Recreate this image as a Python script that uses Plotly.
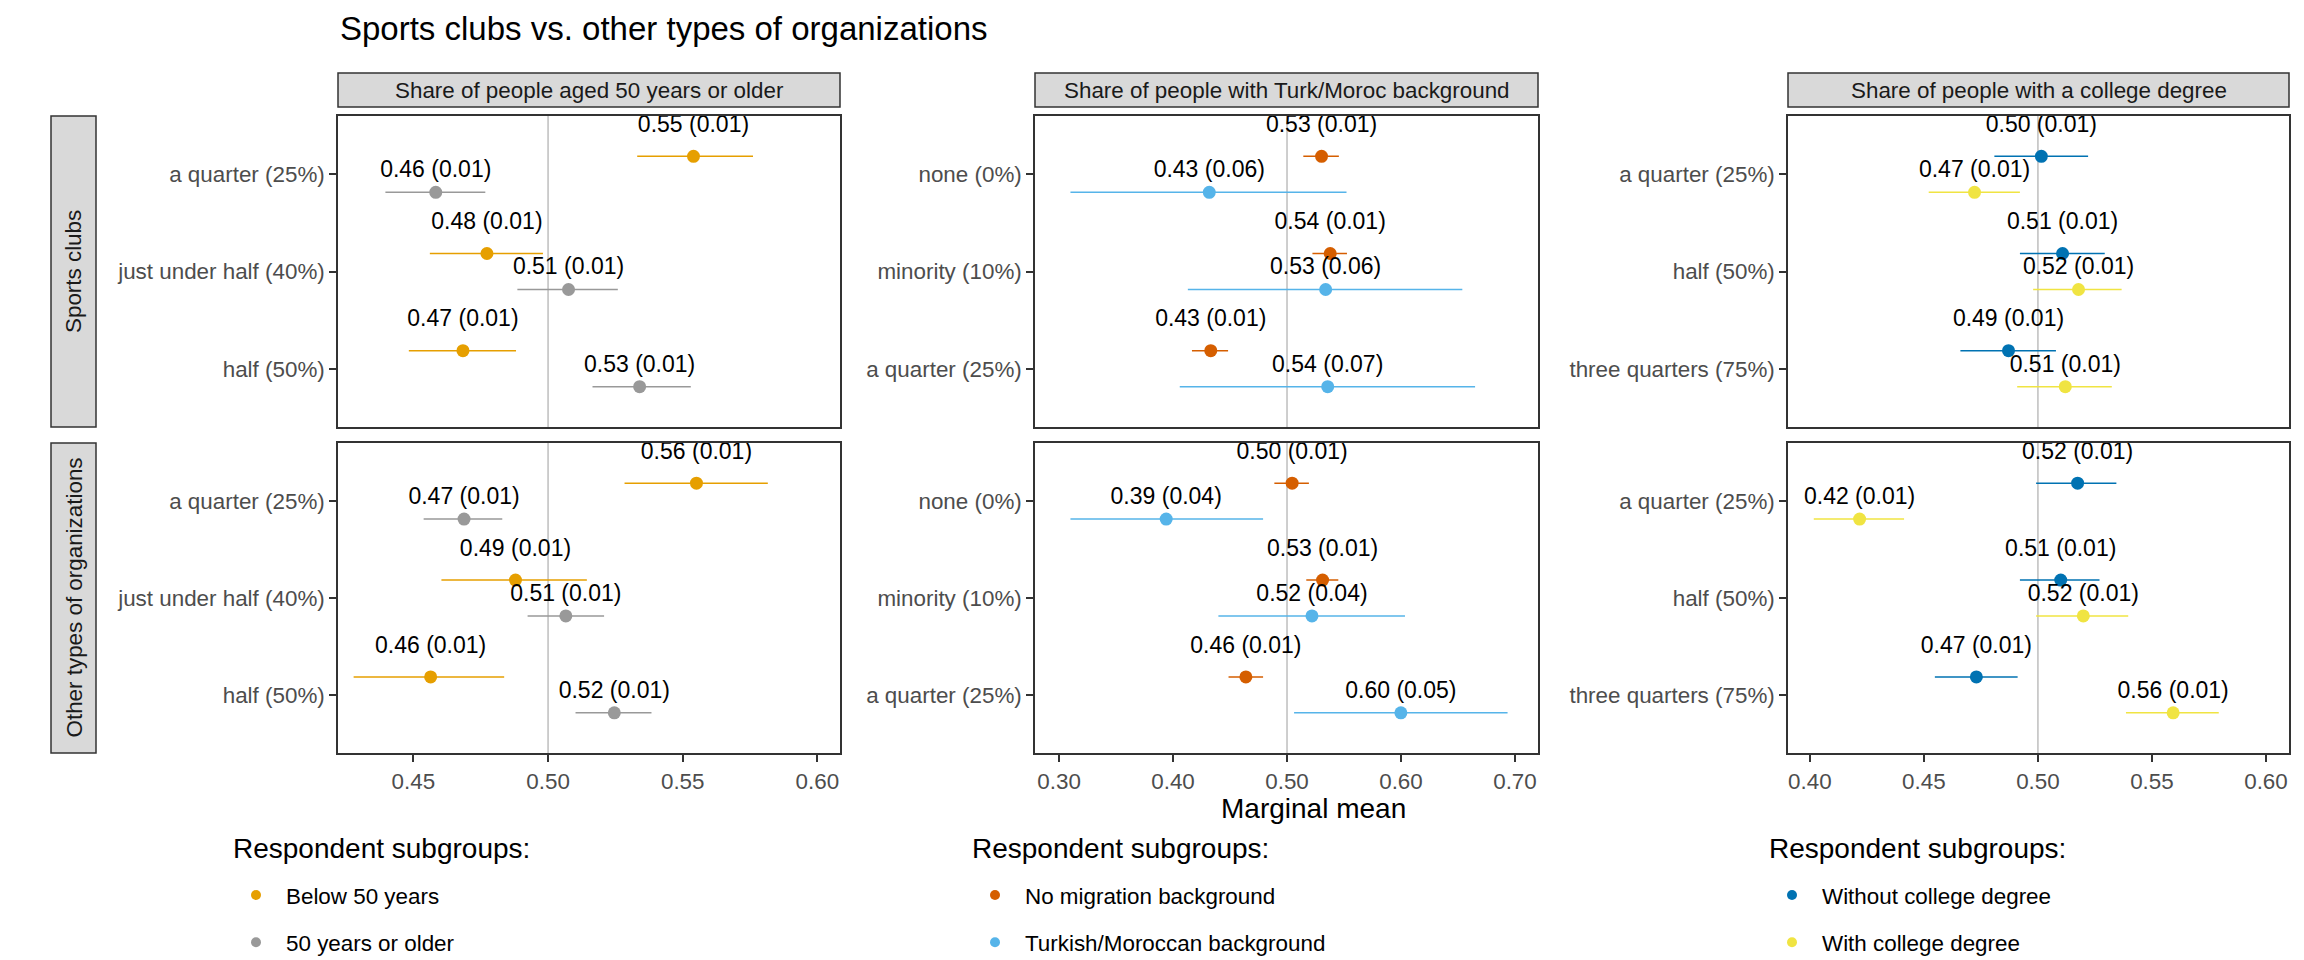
import plotly.graph_objects as go

FONT = "Liberation Sans, Arial, sans-serif"

title_text = "Sports clubs vs. other types of organizations"
x_title = "Marginal mean"
legend_title = "Respondent subgroups:"
row_labels = ["Sports clubs", "Other types of organizations"]
col_labels = ["Share of people aged 50 years or older",
              "Share of people with Turk/Moroc background",
              "Share of people with a college degree"]

levels_age = ["a quarter (25%)", "just under half (40%)", "half (50%)"]
levels_mig = ["none (0%)", "minority (10%)", "a quarter (25%)"]
levels_edu = ["a quarter (25%)", "half (50%)", "three quarters (75%)"]

groups_age = ["Below 50 years", "50 years or older"]
groups_mig = ["No migration background", "Turkish/Moroccan background"]
groups_edu = ["Without college degree", "With college degree"]

colors_age = ["#E69F00", "#999999"]
colors_mig = ["#D55E00", "#56B4E9"]
colors_edu = ["#0072B2", "#F0E442"]

xticks_age = [0.45, 0.50, 0.55, 0.60]
xticks_mig = [0.30, 0.40, 0.50, 0.60, 0.70]
xticks_edu = [0.40, 0.45, 0.50, 0.55, 0.60]

# ---- Share aged 50+ ----
age_sports_below50_est = [0.554, 0.4773, 0.4684]
age_sports_below50_lo = [0.5331, 0.4561, 0.4483]
age_sports_below50_hi = [0.5761, 0.4981, 0.4881]
age_sports_below50_se = [0.01, 0.01, 0.01]
age_sports_50plus_est = [0.4583, 0.5076, 0.534]
age_sports_50plus_lo = [0.4396, 0.4886, 0.5165]
age_sports_50plus_hi = [0.4767, 0.5259, 0.5530]
age_sports_50plus_se = [0.01, 0.01, 0.01]
age_other_below50_est = [0.5551, 0.4879, 0.4564]
age_other_below50_lo = [0.5284, 0.4604, 0.4278]
age_other_below50_hi = [0.5816, 0.5144, 0.4837]
age_other_below50_se = [0.01, 0.01, 0.01]
age_other_50plus_est = [0.4688, 0.5066, 0.5246]
age_other_50plus_lo = [0.4538, 0.4924, 0.5102]
age_other_50plus_hi = [0.4830, 0.5208, 0.5384]
age_other_50plus_se = [0.01, 0.01, 0.01]

# ---- Share Turkish/Moroccan background ----
mig_sports_none_est = [0.5303, 0.5379, 0.4331]
mig_sports_none_lo = [0.5143, 0.5223, 0.4166]
mig_sports_none_hi = [0.5455, 0.5526, 0.4483]
mig_sports_none_se = [0.01, 0.01, 0.01]
mig_sports_tm_est = [0.4318, 0.5339, 0.5357]
mig_sports_tm_lo = [0.3100, 0.4130, 0.4059]
mig_sports_tm_hi = [0.5522, 0.6538, 0.6650]
mig_sports_tm_se = [0.06, 0.06, 0.07]
mig_other_none_est = [0.5045, 0.5312, 0.4639]
mig_other_none_lo = [0.4889, 0.5169, 0.4487]
mig_other_none_hi = [0.5192, 0.5450, 0.4790]
mig_other_none_se = [0.01, 0.01, 0.01]
mig_other_tm_est = [0.394, 0.5219, 0.5999]
mig_other_tm_lo = [0.3100, 0.4398, 0.5062]
mig_other_tm_hi = [0.4790, 0.6035, 0.6935]
mig_other_tm_se = [0.04, 0.04, 0.05]

# ---- Share with college degree ----
edu_sports_nocol_est = [0.5015, 0.5108, 0.4871]
edu_sports_nocol_lo = [0.4809, 0.4921, 0.4660]
edu_sports_nocol_hi = [0.5220, 0.5293, 0.5079]
edu_sports_nocol_se = [0.01, 0.01, 0.01]
edu_sports_col_est = [0.4722, 0.5178, 0.5120]
edu_sports_col_lo = [0.4521, 0.4979, 0.4909]
edu_sports_col_hi = [0.4921, 0.5367, 0.5324]
edu_sports_col_se = [0.01, 0.01, 0.01]
edu_other_nocol_est = [0.5174, 0.5100, 0.4730]
edu_other_nocol_lo = [0.4992, 0.4921, 0.4548]
edu_other_nocol_hi = [0.5344, 0.5270, 0.4911]
edu_other_nocol_se = [0.01, 0.01, 0.01]
edu_other_col_est = [0.4218, 0.5199, 0.5593]
edu_other_col_lo = [0.4017, 0.4992, 0.5386]
edu_other_col_hi = [0.4413, 0.5396, 0.5793]
edu_other_col_se = [0.01, 0.01, 0.01]

# ---- assemble (panel[row][col][group] = (est, lo, hi, se)) ----
panels = [
    [
        [(age_sports_below50_est, age_sports_below50_lo, age_sports_below50_hi, age_sports_below50_se),
         (age_sports_50plus_est, age_sports_50plus_lo, age_sports_50plus_hi, age_sports_50plus_se)],
        [(mig_sports_none_est, mig_sports_none_lo, mig_sports_none_hi, mig_sports_none_se),
         (mig_sports_tm_est, mig_sports_tm_lo, mig_sports_tm_hi, mig_sports_tm_se)],
        [(edu_sports_nocol_est, edu_sports_nocol_lo, edu_sports_nocol_hi, edu_sports_nocol_se),
         (edu_sports_col_est, edu_sports_col_lo, edu_sports_col_hi, edu_sports_col_se)],
    ],
    [
        [(age_other_below50_est, age_other_below50_lo, age_other_below50_hi, age_other_below50_se),
         (age_other_50plus_est, age_other_50plus_lo, age_other_50plus_hi, age_other_50plus_se)],
        [(mig_other_none_est, mig_other_none_lo, mig_other_none_hi, mig_other_none_se),
         (mig_other_tm_est, mig_other_tm_lo, mig_other_tm_hi, mig_other_tm_se)],
        [(edu_other_nocol_est, edu_other_nocol_lo, edu_other_nocol_hi, edu_other_nocol_se),
         (edu_other_col_est, edu_other_col_lo, edu_other_col_hi, edu_other_col_se)],
    ],
]
col_levels = [levels_age, levels_mig, levels_edu]
col_groups = [groups_age, groups_mig, groups_edu]
col_colors = [colors_age, colors_mig, colors_edu]
col_xticks = [xticks_age, xticks_mig, xticks_edu]
col_ranges = [[0.4220, 0.6084], [0.2789, 0.7202], [0.3904, 0.6101]]

W, H = 2304, 960
col_px = [(338, 840), (1035, 1538), (1788, 2289)]
row_px = [(116, 427), (443, 753)]
group_offset = [0.185, -0.185]
label_offset = [0.31, 0.215]

TICK_FONT = dict(family=FONT, size=22.4, color="#4D4D4D")
TEXT_COLOR = "#1A1A1A"
BORDER = "#333333"

fig = go.Figure()
layout = dict(
    width=W, height=H, margin=dict(l=0, r=0, t=0, b=0, autoexpand=False),
    paper_bgcolor="white", plot_bgcolor="white",
    font=dict(family=FONT, color=TEXT_COLOR),
    showlegend=True,
)
shapes = []
annotations = []

for r in range(2):
    for c in range(3):
        k = r * 3 + c + 1
        xa = "x" if k == 1 else f"x{k}"
        ya = "y" if k == 1 else f"y{k}"
        nlev = len(col_levels[c])
        ypos = [nlev - i for i in range(nlev)]
        for g in range(2):
            est, lo, hi, se = panels[r][c][g]
            yy = [p + group_offset[g] for p in ypos]
            fig.add_trace(go.Scatter(
                x=est, y=yy, mode="markers", xaxis=xa, yaxis=ya,
                marker=dict(size=13, color=col_colors[c][g], line=dict(width=0)),
                error_x=dict(type="data", symmetric=False,
                             array=[h - e for h, e in zip(hi, est)],
                             arrayminus=[e - l for e, l in zip(est, lo)],
                             width=0, thickness=1.5, color=col_colors[c][g]),
                showlegend=False, hoverinfo="skip"))
            fig.add_trace(go.Scatter(
                x=est, y=[p + label_offset[g] for p in yy], mode="text",
                xaxis=xa, yaxis=ya,
                text=[f"{e:.2f} ({s:.2f})" for e, s in zip(est, se)],
                textposition="middle center",
                textfont=dict(family=FONT, size=23, color="black"),
                showlegend=False, hoverinfo="skip"))
        x0, x1 = col_px[c]
        y0, y1 = row_px[r]
        xkey = "xaxis" if k == 1 else f"xaxis{k}"
        ykey = "yaxis" if k == 1 else f"yaxis{k}"
        bottom = (r == 1)
        layout[xkey] = dict(
            domain=[x0 / W, x1 / W], anchor=ya, range=col_ranges[c],
            tickvals=col_xticks[c], ticktext=[f"{v:.2f}" for v in col_xticks[c]],
            showticklabels=bottom, ticks="outside" if bottom else "",
            ticklen=7, tickwidth=1.5, tickcolor=BORDER, tickfont=TICK_FONT,
            showgrid=False, zeroline=False, showline=True, linecolor=BORDER,
            linewidth=1.5, mirror=True, fixedrange=True)
        layout[ykey] = dict(
            domain=[1 - y1 / H, 1 - y0 / H], anchor=xa, range=[0.4, nlev + 0.6],
            tickvals=ypos, ticktext=col_levels[c],
            ticks="outside", ticklen=7, tickwidth=1.5, tickcolor=BORDER,
            tickfont=TICK_FONT, showgrid=False, zeroline=False, showline=True,
            linecolor=BORDER, linewidth=1.5, mirror=True, fixedrange=True)
        shapes.append(dict(type="line", xref=xa, yref=f"{ya} domain",
                           x0=0.5, x1=0.5, y0=0, y1=1, layer="below",
                           line=dict(color="#BEBEBE", width=1.5)))

# column strips
for c in range(3):
    x0, x1 = col_px[c]
    shapes.append(dict(type="rect", xref="paper", yref="paper",
                       x0=x0 / W, x1=x1 / W, y0=1 - 107 / H, y1=1 - 73 / H,
                       fillcolor="#D9D9D9", line=dict(color=BORDER, width=1.5)))
    annotations.append(dict(text=col_labels[c], xref="paper", yref="paper",
                            x=(x0 + x1) / 2 / W, y=1 - 90 / H, showarrow=False,
                            xanchor="center", yanchor="middle",
                            font=dict(family=FONT, size=22.4, color=TEXT_COLOR)))
# row strips
for r in range(2):
    y0, y1 = row_px[r]
    shapes.append(dict(type="rect", xref="paper", yref="paper",
                       x0=51 / W, x1=96 / W, y0=1 - y1 / H, y1=1 - y0 / H,
                       fillcolor="#D9D9D9", line=dict(color=BORDER, width=1.5)))
    annotations.append(dict(text=row_labels[r], xref="paper", yref="paper",
                            x=73.5 / W, y=1 - (y0 + y1) / 2 / H, showarrow=False,
                            textangle=-90, xanchor="center", yanchor="middle",
                            font=dict(family=FONT, size=22.4, color=TEXT_COLOR)))

annotations.append(dict(text=title_text, xref="paper", yref="paper",
                        x=338 / W, y=1 - 29 / H, showarrow=False,
                        xanchor="left", yanchor="middle",
                        font=dict(family=FONT, size=33, color="black")))
annotations.append(dict(text=x_title, xref="paper", yref="paper",
                        x=(338 + 2289) / 2 / W, y=1 - 808 / H, showarrow=False,
                        xanchor="center", yanchor="middle",
                        font=dict(family=FONT, size=28, color="black")))

# legends (one per column)
legend_names = ["legend", "legend2", "legend3"]
legend_title_x = [231, 970, 1767]
legend_x = [226, 965, 1762]
for c in range(3):
    for g in range(2):
        fig.add_trace(go.Scatter(
            x=[None], y=[None], mode="markers", name=col_groups[c][g],
            marker=dict(size=10, color=col_colors[c][g]),
            legend=legend_names[c], legendgroup=f"c{c}g{g}", showlegend=True,
            hoverinfo="skip"))
    layout[legend_names[c]] = dict(
        x=legend_x[c] / W, xanchor="left", y=1 - 874 / H, yanchor="top",
        font=dict(family=FONT, size=22.4, color="black"),
        bgcolor="rgba(0,0,0,0)", borderwidth=0, tracegroupgap=15,
        itemwidth=50, traceorder="grouped")
    annotations.append(dict(text=legend_title, xref="paper", yref="paper",
                            x=legend_title_x[c] / W, y=1 - 848 / H, showarrow=False,
                            xanchor="left", yanchor="middle",
                            font=dict(family=FONT, size=28, color="black")))

layout["shapes"] = shapes
layout["annotations"] = annotations
fig.update_layout(**layout)

fig.write_html("out.html", config={"displayModeBar": False},
               post_script="document.body.style.margin='0';")
